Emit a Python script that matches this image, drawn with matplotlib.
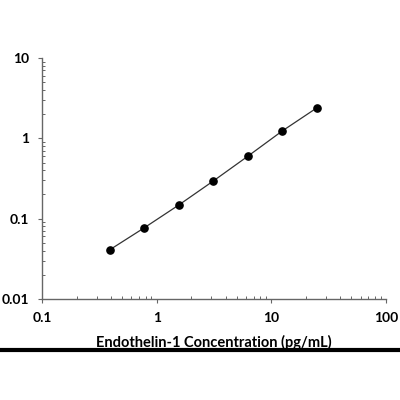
import matplotlib
matplotlib.use("Agg")
import matplotlib.pyplot as plt
from matplotlib.ticker import LogLocator, FixedFormatter, NullFormatter, FixedLocator
from matplotlib.lines import Line2D

conc = [0.39, 0.78, 1.56, 3.125, 6.25, 12.5, 25]
od = [0.041, 0.077, 0.148, 0.295, 0.60, 1.24, 2.40]
xticks = [0.1, 1, 10, 100]
xticklabels = ["0.1", "1", "10", "100"]
yticks = [0.01, 0.1, 1, 10]
yticklabels = ["0.01", "0.1", "1", "10"]
xlabel = "Endothelin-1 Concentration (pg/mL)"

plt.rcParams['font.family'] = ['Lato', 'DejaVu Sans']

fig = plt.figure(figsize=(4, 4), dpi=100)
ax = fig.add_axes([0.105, 0.2525, 0.86, 0.6025])
ax.plot(conc, od, color='#333333', lw=0.9, marker='o', ms=5.2,
        mfc='black', mec='black', zorder=3)
ax.set_xscale('log')
ax.set_yscale('log')
ax.set_xlim(0.1, 100)
ax.set_ylim(0.01, 10)

axis_col = '#666666'
for s in ['top', 'right']:
    ax.spines[s].set_visible(False)
for s in ['left', 'bottom']:
    ax.spines[s].set_color(axis_col)
    ax.spines[s].set_linewidth(1.0)

ax.xaxis.set_major_locator(FixedLocator(xticks))
ax.xaxis.set_major_formatter(FixedFormatter(xticklabels))
ax.yaxis.set_major_locator(FixedLocator(yticks))
ax.yaxis.set_major_formatter(FixedFormatter(yticklabels))
ax.xaxis.set_minor_locator(LogLocator(base=10, subs=range(2, 10)))
ax.yaxis.set_minor_locator(LogLocator(base=10, subs=range(2, 10)))
ax.xaxis.set_minor_formatter(NullFormatter())
ax.yaxis.set_minor_formatter(NullFormatter())

ax.tick_params(which='major', direction='out', length=3, width=0.8,
               color=axis_col, labelsize=10, pad=6)
ax.tick_params(which='minor', direction='in', length=2.5, width=0.7,
               color=axis_col)
for lab in ax.get_xticklabels() + ax.get_yticklabels():
    lab.set_fontweight('bold')

fig.text(0.535, 0.145, xlabel, ha='center', va='center',
         fontsize=10.5, fontweight='bold')
fig.add_artist(Line2D([0, 1], [0.125, 0.125], transform=fig.transFigure,
                      color='black', lw=3))

fig.savefig("out.png", dpi=100)
